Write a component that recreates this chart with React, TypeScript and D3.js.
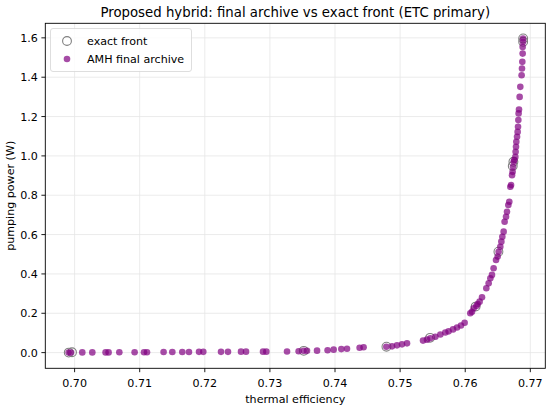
import * as d3 from 'd3';
import React from 'react';

// exact Pareto front (grey open circles)
const exactEff = [0.6991, 0.6996, 0.7352, 0.7479, 0.7546, 0.7616, 0.7651, 0.7673, 0.7674, 0.7689, 0.7689];
const exactPow = [0.0, 0.002, 0.009, 0.03, 0.075, 0.234, 0.513, 0.948, 0.97, 1.58, 1.597];

// AMH final archive (purple dots)
const amhEff = [
  0.69908, 0.69945, 0.70118, 0.70272, 0.70476, 0.70522, 0.70687, 0.70922, 0.71066, 0.71112,
  0.71367, 0.71501, 0.71654, 0.71757, 0.71911, 0.71977, 0.72249, 0.72356, 0.72556, 0.72633,
  0.72894, 0.72945, 0.73263, 0.73441, 0.73518, 0.7357, 0.73724, 0.73886, 0.73979, 0.74097,
  0.74184, 0.74378, 0.74439, 0.74788, 0.74876, 0.74952, 0.75029, 0.75106, 0.75352, 0.75413,
  0.75464, 0.75541, 0.75618, 0.75694, 0.75745, 0.75813, 0.75874, 0.75935, 0.75991, 0.76078,
  0.76104, 0.76129, 0.76171, 0.76191, 0.76221, 0.76258, 0.76324, 0.7636, 0.76386, 0.76411,
  0.76436, 0.76473, 0.76498, 0.76513, 0.76539, 0.76555, 0.7657, 0.7659, 0.76605, 0.76627,
  0.76642, 0.76662, 0.76677, 0.76693, 0.76704, 0.76719, 0.76728, 0.76734, 0.76744, 0.76754,
  0.7677, 0.76774, 0.7678, 0.76785, 0.76796, 0.76805, 0.76811, 0.76816, 0.7682, 0.76826,
  0.76836, 0.76846, 0.76866, 0.76872, 0.76877, 0.76882, 0.76882, 0.76888, 0.76888,
];
const amhPow = [
  0.0, 0.0, 0.001, 0.001, 0.001, 0.001, 0.002, 0.002, 0.002, 0.002,
  0.003, 0.003, 0.003, 0.003, 0.004, 0.004, 0.004, 0.004, 0.005, 0.005,
  0.005, 0.005, 0.006, 0.007, 0.009, 0.009, 0.01, 0.012, 0.015, 0.018,
  0.02, 0.025, 0.027, 0.03, 0.032, 0.037, 0.042, 0.047, 0.061, 0.066,
  0.073, 0.081, 0.092, 0.102, 0.108, 0.118, 0.128, 0.138, 0.152, 0.2,
  0.208, 0.225, 0.237, 0.247, 0.259, 0.281, 0.327, 0.352, 0.378, 0.395,
  0.429, 0.471, 0.488, 0.513, 0.538, 0.564, 0.589, 0.615, 0.665, 0.691,
  0.716, 0.75, 0.767, 0.843, 0.852, 0.902, 0.919, 0.945, 0.97, 0.979,
  0.995, 1.021, 1.046, 1.072, 1.097, 1.122, 1.148, 1.182, 1.216, 1.236,
  1.3, 1.351, 1.41, 1.444, 1.478, 1.52, 1.554, 1.58, 1.597,
];

const xTicks = [0.70, 0.71, 0.72, 0.73, 0.74, 0.75, 0.76, 0.77];
const yTicks = [0.0, 0.2, 0.4, 0.6, 0.8, 1.0, 1.2, 1.4, 1.6];

const width = 550;
const height = 411;
const marginLeft = 45.3;
const marginRight = 4.7;
const marginTop = 23.3;
const marginBottom = 42.7;

const font = 'DejaVu Sans, sans-serif';
const fs = 11.1;

export default function App() {
  const x = d3.scaleLinear().domain([0.6955, 0.7723]).range([marginLeft, width - marginRight]);
  const y = d3.scaleLinear().domain([-0.0797, 1.674]).range([height - marginBottom, marginTop]);

  const amh = amhEff.map((e, i) => ({ e, p: amhPow[i] }));
  const exact = exactEff.map((e, i) => ({ e, p: exactPow[i] }));

  const [x0, x1] = x.range();
  const [y0, y1] = y.range();

  return (
    <div>
      <style>{'body{margin:0}'}</style>
      <svg width={width} height={height} style={{ display: 'block', background: '#fff' }}>
        {/* grid */}
        <g stroke="#e6e6e6" strokeWidth={0.8}>
          {xTicks.map(t => <line key={'gx' + t} x1={x(t)} x2={x(t)} y1={y0} y2={y1} />)}
          {yTicks.map(t => <line key={'gy' + t} x1={x0} x2={x1} y1={y(t)} y2={y(t)} />)}
        </g>

        {/* exact front */}
        <g fill="none" stroke="#808080" strokeWidth={1.1}>
          {exact.map((d, i) => <circle key={'ex' + i} cx={x(d.e)} cy={y(d.p)} r={4.4} />)}
        </g>

        {/* AMH archive */}
        <g fill="#800080" fillOpacity={0.7}>
          {amh.map((d, i) => <circle key={'am' + i} cx={x(d.e)} cy={y(d.p)} r={3.3} />)}
        </g>

        {/* frame */}
        <rect x={x0} y={y1} width={x1 - x0} height={y0 - y1} fill="none" stroke="#000" strokeWidth={0.9} />

        {/* x ticks */}
        <g fontFamily={font} fontSize={fs} textAnchor="middle">
          {xTicks.map(t => (
            <g key={'xt' + t}>
              <line x1={x(t)} x2={x(t)} y1={y0} y2={y0 + 3.9} stroke="#000" strokeWidth={0.9} />
              <text x={x(t)} y={y0 + 18.6}>{d3.format('.2f')(t)}</text>
            </g>
          ))}
        </g>

        {/* y ticks */}
        <g fontFamily={font} fontSize={fs} textAnchor="end">
          {yTicks.map(t => (
            <g key={'yt' + t}>
              <line x1={x0 - 3.9} x2={x0} y1={y(t)} y2={y(t)} stroke="#000" strokeWidth={0.9} />
              <text x={x0 - 7.5} y={y(t) + 4}>{d3.format('.1f')(t)}</text>
            </g>
          ))}
        </g>

        {/* labels */}
        <text x={(x0 + x1) / 2} y={403.3} textAnchor="middle" fontFamily={font} fontSize={fs}>thermal efficiency</text>
        <text transform={`translate(14,${(y0 + y1) / 2}) rotate(-90)`} textAnchor="middle" fontFamily={font} fontSize={fs}>pumping power (W)</text>
        <text x={(x0 + x1) / 2} y={17.3} textAnchor="middle" fontFamily={font} fontSize={13.3}>Proposed hybrid: final archive vs exact front (ETC primary)</text>

        {/* legend */}
        <g fontFamily={font} fontSize={fs}>
          <rect x={50.5} y={28.5} width={141} height={43} rx={2.5} fill="#fff" fillOpacity={0.8} stroke="#d6d6d6" strokeWidth={0.8} />
          <circle cx={67} cy={41} r={4.4} fill="none" stroke="#808080" strokeWidth={1.1} />
          <text x={87} y={45}>exact front</text>
          <circle cx={67} cy={59} r={3.3} fill="#800080" fillOpacity={0.7} />
          <text x={87} y={63}>AMH final archive</text>
        </g>
      </svg>
    </div>
  );
}
